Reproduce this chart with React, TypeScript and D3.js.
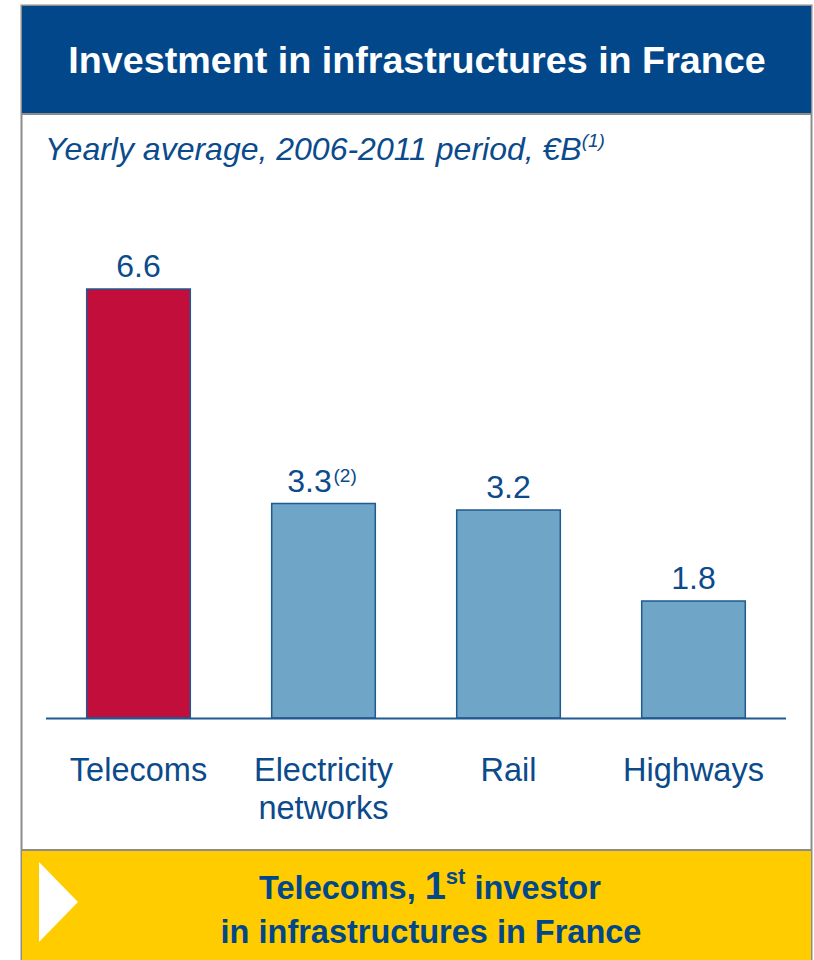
import React from "react";
import * as d3 from "d3";

const categories: string[][] = [["Telecoms"], ["Electricity", "networks"], ["Rail"], ["Highways"]];
const values: number[] = [6.6, 3.3, 3.2, 1.8];
const valueLabels: string[] = ["6.6", "3.3", "3.2", "1.8"];
const valueNotes: string[] = ["", "(2)", "", ""];
const highlight: boolean[] = [true, false, false, false];

const title = "Investment in infrastructures in France";
const subtitle = "Yearly average, 2006-2011 period, €B";

const W = 814;
const H = 960;
const FONT = "'Liberation Sans', Arial, sans-serif";
const DARK = "#0B4A8B";
const HEADER = "#02478A";
const RED = "#C20E3B";
const LIGHT = "#6FA6C7";
const YELLOW = "#FFCC00";
const GRAY = "#8C8C8C";

export default function App() {
  const baseY = 718;
  const x = d3
    .scaleBand<number>()
    .domain(values.map((_, i) => i))
    .range([46, 786])
    .paddingInner(0.44)
    .paddingOuter(0.22);
  const y = d3.scaleLinear().domain([0, 6.6]).range([baseY, 289]);

  return (
    <svg
      width={W}
      height={H}
      style={{ position: "absolute", left: 0, top: 0, background: "#fff" }}
      fontFamily={FONT}
    >
      {/* outer frame */}
      <rect x={21.5} y={5.5} width={790} height={H} fill="#fff" stroke={GRAY} strokeWidth={2} />
      {/* header */}
      <rect x={22} y={6} width={789} height={107} fill={HEADER} />
      <line x1={21} x2={812} y1={114} y2={114} stroke={GRAY} strokeWidth={2} />
      <text x={417} y={73} textAnchor="middle" fill="#fff" fontWeight="bold" fontSize={37.7}>
        {title}
      </text>
      {/* subtitle */}
      <text x={45} y={160} fill={DARK} fontStyle="italic" fontSize={32}>
        {subtitle}
        <tspan fontSize={19} dy={-13}>(1)</tspan>
      </text>

      {/* bars */}
      {values.map((v, i) => (
        <g key={i}>
          <rect
            x={x(i)}
            y={y(v)}
            width={x.bandwidth()}
            height={baseY - y(v)}
            fill={highlight[i] ? RED : LIGHT}
            stroke="#1F5A92"
            strokeWidth={1.5}
          />
          <text
            x={(x(i) as number) + x.bandwidth() / 2 + (valueNotes[i] ? -14 : 0)}
            y={y(v) - 12}
            textAnchor="middle"
            fill={DARK}
            fontSize={32}
          >
            {valueLabels[i]}
          </text>
          {valueNotes[i] && (
            <text
              x={(x(i) as number) + x.bandwidth() / 2 + 10}
              y={y(v) - 22}
              fill={DARK}
              fontSize={19}
            >
              {valueNotes[i]}
            </text>
          )}
          {categories[i].map((line, j) => (
            <text
              key={j}
              x={(x(i) as number) + x.bandwidth() / 2}
              y={781 + j * 38}
              textAnchor="middle"
              fill={DARK}
              fontSize={32.5}
            >
              {line}
            </text>
          ))}
        </g>
      ))}
      {/* baseline */}
      <line x1={46} x2={786} y1={baseY + 0.5} y2={baseY + 0.5} stroke="#1F5A92" strokeWidth={2} />

      {/* footer */}
      <rect x={22} y={851} width={789} height={H - 851} fill={YELLOW} />
      <line x1={21} x2={812} y1={850} y2={850} stroke={GRAY} strokeWidth={2} />
      <polygon points="39,862 78,902 39,942" fill="#fff" />
      <text x={430} y={899} textAnchor="middle" fill={HEADER} fontWeight="bold" fontSize={32.5}>
        Telecoms, <tspan fontSize={38}>1</tspan>
        <tspan fontSize={22} dy={-15}>st</tspan>
        <tspan dy={15}> investor</tspan>
      </text>
      <text x={431} y={943} textAnchor="middle" fill={HEADER} fontWeight="bold" fontSize={32.5}>
        in infrastructures in France
      </text>
    </svg>
  );
}
